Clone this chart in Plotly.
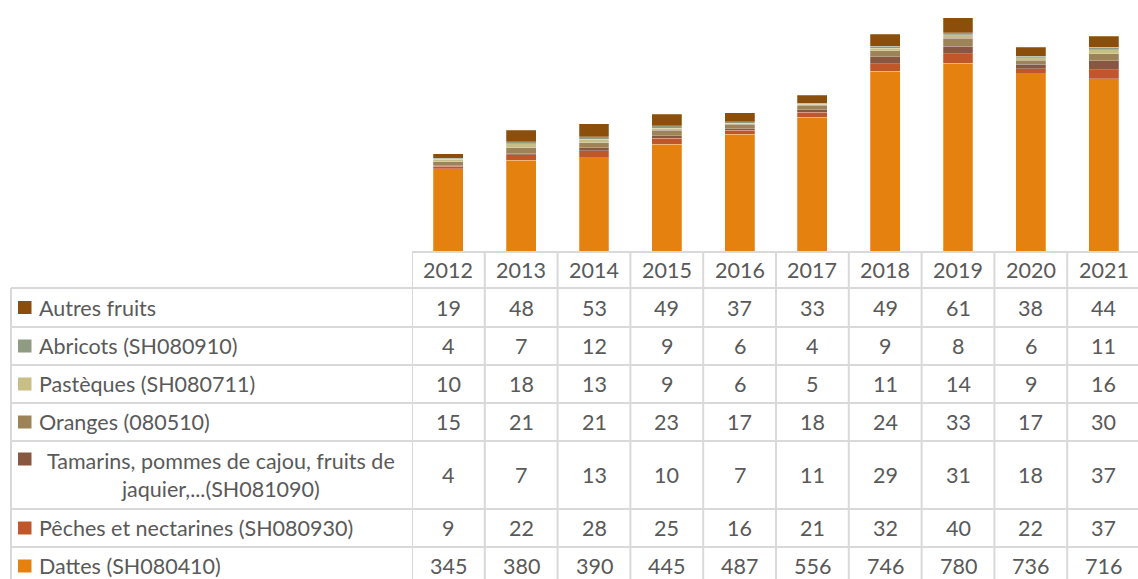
import plotly.graph_objects as go

years = ["2012", "2013", "2014", "2015", "2016", "2017", "2018", "2019", "2020", "2021"]

# series (bottom to top in the stack)
dattes = [345, 380, 390, 445, 487, 556, 746, 780, 736, 716]
peches = [9, 22, 28, 25, 16, 21, 32, 40, 22, 37]
tamarins = [4, 7, 13, 10, 7, 11, 29, 31, 18, 37]
oranges = [15, 21, 21, 23, 17, 18, 24, 33, 17, 30]
pasteques = [10, 18, 13, 9, 6, 5, 11, 14, 9, 16]
abricots = [4, 7, 12, 9, 6, 4, 9, 8, 6, 11]
autres = [19, 48, 53, 49, 37, 33, 49, 61, 38, 44]

names = [
    "Dattes (SH080410)",
    "Pêches et nectarines (SH080930)",
    "Tamarins, pommes de cajou, fruits de jaquier,...(SH081090)",
    "Oranges (080510)",
    "Pastèques (SH080711)",
    "Abricots (SH080910)",
    "Autres fruits",
]
series = [dattes, peches, tamarins, oranges, pasteques, abricots, autres]
colors = ["#E5820F", "#C0572B", "#885740", "#9D8358", "#C8BF88", "#8F9C81", "#8B4F0B"]

W, H = 1138, 579
TEXT = "#595959"
GRID = "#D9D9D9"
FONT = "Lato"
FS = 21.5

def py(p):  # pixel y -> paper y
    return 1 - p / H

def px(p):
    return p / W

axis_bottom = 252
col_left = 412
col_w = 72.8

fig = go.Figure()
for name, vals, c in zip(names, series, colors):
    fig.add_trace(go.Bar(
        x=years, y=vals, name=name, marker_color=c,
        marker_line=dict(color="rgba(255,255,255,0.3)", width=0.8),
        width=0.41, showlegend=False,
    ))

row_bounds = [288, 327, 365, 403, 441, 509, 547, 586]
table_rows = list(zip(names[::-1], series[::-1], colors[::-1]))

shapes = []
annotations = []

shapes.append(dict(type="line", xref="paper", yref="paper",
                   x0=px(col_left), x1=1.01, y0=py(axis_bottom), y1=py(axis_bottom),
                   line=dict(color=GRID, width=2)))
for yb in row_bounds:
    shapes.append(dict(type="line", xref="paper", yref="paper",
                       x0=px(11), x1=1.01, y0=py(yb), y1=py(yb),
                       line=dict(color=GRID, width=2)))
for k in range(len(years) + 1):
    shapes.append(dict(type="line", xref="x", yref="paper",
                       x0=k - 0.5, x1=k - 0.5, y0=0, y1=py(axis_bottom),
                       line=dict(color=GRID, width=2)))
shapes.append(dict(type="line", xref="paper", yref="paper",
                   x0=px(11), x1=px(11), y0=0, y1=py(288),
                   line=dict(color=GRID, width=2)))

# header (category index positions on the x axis)
for i, yr in enumerate(years):
    annotations.append(dict(x=i, y=py(270), xref="x", yref="paper", text=yr,
                            showarrow=False, font=dict(family=FONT, size=FS, color=TEXT),
                            xanchor="center", yanchor="middle"))

for r, (name, vals, c) in enumerate(table_rows):
    top, bot = row_bounds[r], row_bounds[r + 1]
    cy = (top + bot) / 2 if r < len(table_rows) - 1 else 566
    for i, v in enumerate(vals):
        annotations.append(dict(x=i, y=py(cy), xref="x", yref="paper", text=str(v),
                                showarrow=False, font=dict(family=FONT, size=FS, color=TEXT),
                                xanchor="center", yanchor="middle"))
    if name.startswith("Tamarins"):
        sq_y = 459
        annotations.append(dict(x=px(221), y=py(cy), xref="paper", yref="paper",
                                text="Tamarins, pommes de cajou, fruits de<br>jaquier,...(SH081090)",
                                showarrow=False, align="center",
                                font=dict(family=FONT, size=FS, color=TEXT),
                                xanchor="center", yanchor="middle"))
    else:
        sq_y = cy
        annotations.append(dict(x=px(37), y=py(cy), xref="paper", yref="paper",
                                text=name, showarrow=False,
                                font=dict(family=FONT, size=FS, color=TEXT),
                                xanchor="left", yanchor="middle"))
    shapes.append(dict(type="rect", xref="paper", yref="paper",
                       x0=px(18), x1=px(31.5), y0=py(sq_y - 6.5), y1=py(sq_y + 6.5),
                       fillcolor=c, line=dict(width=0)))

fig.update_layout(
    width=W, height=H,
    margin=dict(l=0, r=0, t=0, b=0),
    paper_bgcolor="white", plot_bgcolor="white",
    barmode="stack",
    xaxis=dict(type="category", range=[-0.5, -0.5 + (W - col_left) / col_w],
               domain=[px(col_left), 1], showticklabels=False, showgrid=False,
               zeroline=False, showline=False, ticks=""),
    yaxis=dict(range=[0, axis_bottom / 0.242], domain=[py(axis_bottom), 1],
               showticklabels=False, showgrid=False, zeroline=False, showline=False),
    shapes=shapes,
    annotations=annotations,
)

fig.write_html("out.html", config={"displayModeBar": False},
               post_script="document.body.style.margin='0';document.body.style.overflow='hidden';")
